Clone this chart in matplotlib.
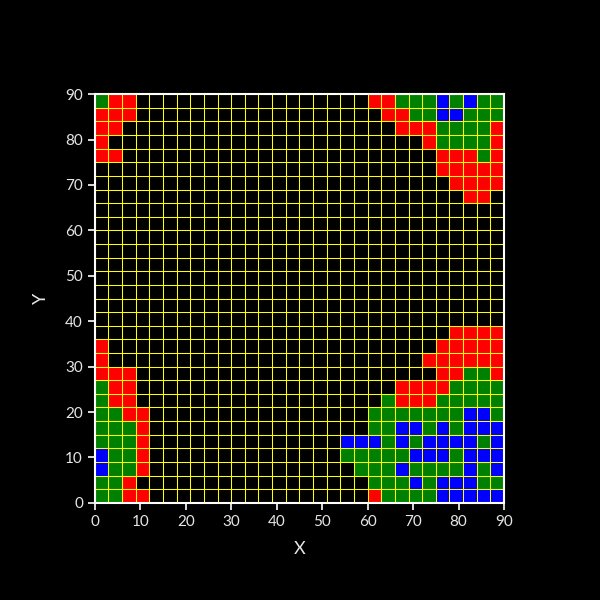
import numpy as np
import matplotlib
matplotlib.use('Agg')
import matplotlib.pyplot as plt
from matplotlib.colors import ListedColormap

matplotlib.rcParams['font.family'] = 'Lato'

# cell states on a 30x30 grid of 3x3 cells, top row first
# '.' empty, 'R' red, 'G' green, 'B' blue
ROWS = [
    "GRR" + "." * 17 + "RRGGGBGBGG",
    "RRR" + "." * 18 + "RRGGBBGGG",
    "RR" + "." * 20 + "RRRGGGGR",
    "R" + "." * 23 + "RGGGGR",
    "RR" + "." * 23 + "RRRGR",
    "." * 25 + "RRRRR",
    "." * 26 + "RRRR",
    "." * 27 + "RR.",
    "." * 30,
    "." * 30,
    "." * 30,
    "." * 30,
    "." * 30,
    "." * 30,
    "." * 30,
    "." * 30,
    "." * 30,
    "." * 26 + "RRRR",
    "R" + "." * 24 + "RRRRR",
    "R" + "." * 23 + "RRRRRR",
    "RRR" + "." * 22 + "RRGGR",
    "GRR" + "." * 19 + "RRRRGGGG",
    "GRR" + "." * 18 + "GRRRGGGGG",
    "GGRR" + "." * 16 + "GGGGGGGBBG",
    "GGGR" + "." * 16 + "GGBBGBGBBB",
    "GGGR" + "." * 14 + "BBBGBGBBBBGB",
    "BGGR" + "." * 14 + "GGGGGBBBGBBB",
    "BGGR" + "." * 15 + "GGGBGGGGBGB",
    "GGR" + "." * 17 + "GGGBGBBBGG",
    "GGRR" + "." * 16 + "RGGGGBBBBB",
]
STATES = ".RGB"
STATE_COLORS = ['black', '#ff0000', '#008000', '#0000ff']
CELL = 3
TICKS = list(range(0, 91, 10))

grid = np.array([[STATES.index(c) for c in row] for row in ROWS[::-1]])
n_rows, n_cols = grid.shape
x_edges = np.arange(n_cols + 1) * CELL
y_edges = np.arange(n_rows + 1) * CELL

fig = plt.figure(figsize=(6, 6), dpi=100, facecolor='black')
ax = fig.add_axes([0.158, 0.162, 0.682, 0.681])
ax.set_facecolor('black')

ax.pcolormesh(x_edges, y_edges, grid, cmap=ListedColormap(STATE_COLORS),
              vmin=-0.5, vmax=3.5)
# thin yellow cell borders
ax.vlines(x_edges, y_edges[0], y_edges[-1], colors='yellow', linewidth=0.75)
ax.hlines(y_edges, x_edges[0], x_edges[-1], colors='yellow', linewidth=0.75)

ax.set_xlim(0, 90)
ax.set_ylim(0, 90)
ax.set_xticks(TICKS)
ax.set_yticks(TICKS)
ax.tick_params(colors='white', labelcolor='#e6e6e6', labelsize=11,
               length=5, width=1.2)
for spine in ax.spines.values():
    spine.set_color('white')
    spine.set_linewidth(1.5)
    spine.set_zorder(5)

ax.set_xlabel('X', color='#e6e6e6', fontsize=13, labelpad=9)
ax.set_ylabel('Y', color='#e6e6e6', fontsize=13, labelpad=12)

plt.savefig('out.png', facecolor='black')
